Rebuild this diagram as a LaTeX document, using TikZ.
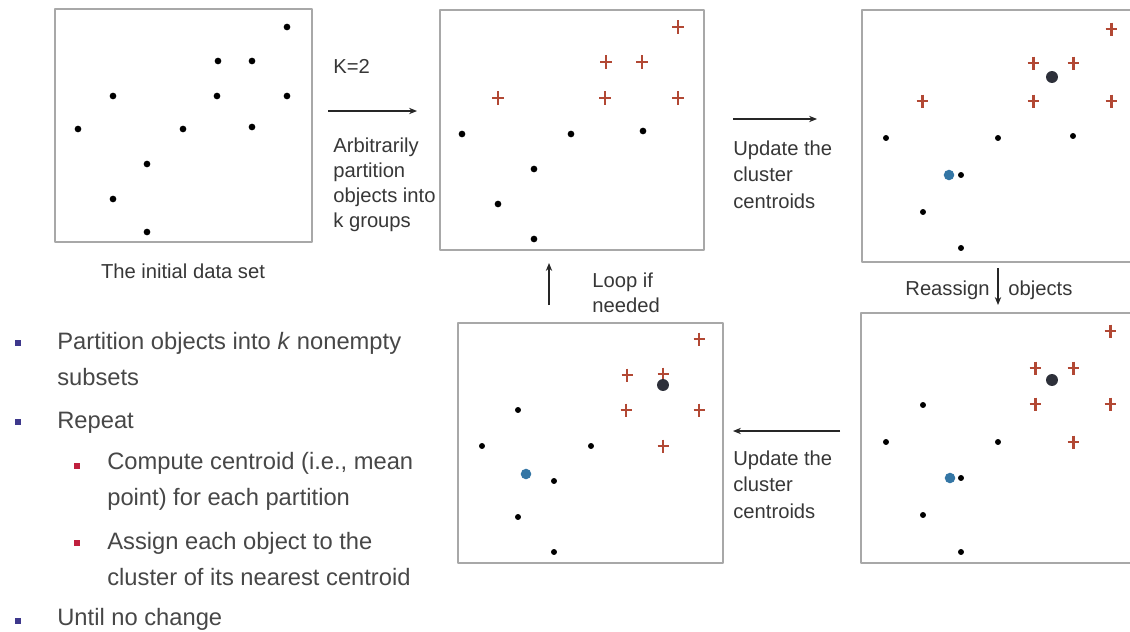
\documentclass[tikz,border=0pt]{standalone}
\usepackage{fontspec}
\setmainfont{Liberation Sans}
\usetikzlibrary{arrows.meta}
\definecolor{framegray}{RGB}{168,168,168}
\definecolor{crossred}{RGB}{178,72,52}
\definecolor{centblue}{RGB}{52,118,165}
\definecolor{centdark}{RGB}{45,48,58}
\definecolor{bulletblue}{RGB}{62,56,140}
\definecolor{bulletred}{RGB}{192,32,62}
\definecolor{labelgray}{RGB}{55,55,55}
\newcommand{\labfont}{\fontsize{11.5}{14.2}\selectfont}
\newcommand{\listfont}{\fontsize{13.5}{20}\selectfont}

\begin{document}
\begin{tikzpicture}[x=0.02cm,y=-0.02cm,>={Stealth[length=4.5pt,width=3.6pt]},line join=round,
 panel/.style={draw=framegray,line width=1pt},
 crossmark/.style={crossred,line width=1.7pt},
 flow/.style={->,line width=.7pt,black!85},
 lbl/.style={font=\labfont,text=labelgray,inner sep=0pt,align=left},
 item/.style={font=\listfont,text=black!72,inner sep=0pt,align=left,anchor=base west}]
 \useasboundingbox (0,0) rectangle (1130,632);
 \clip (0,0) rectangle (1130,632);
 \fill[white] (0,0) rectangle (1130,632);
 \draw[panel] (55,9) rectangle (312,242);
 \draw[panel] (440,10) rectangle (704,250);
 \draw[panel] (862,10) rectangle (1145,262);
 \draw[panel] (861,313) rectangle (1145,563);
 \draw[panel] (458,323) rectangle (723,563);
 \foreach \x/\y in {287/27,218/61,252/61,113/96,217/96,287/96,
   78/129,183/129,252/127,147/164,113/199,147/232,
   462/134,571/134,643/131,534/169,498/204,534/239}
  \fill (\x,\y) circle(1.9pt);
 \foreach \x/\y in {678/27,606/62,642/62,498/98,605/98,678/98}
  \draw[crossmark] ({\x-6},\y)--({\x+6},\y) (\x,{\y-7})--(\x,{\y+7});
 \foreach \x/\y in {1111/29,1033/63,1073/63,922/101,1033/101,1111/101,
   1110/331,1035/368,1073/368,1035/404,1110/404,1073/442,
   699/339,627/375,663/374,626/410,699/410,663/446}
  \draw[crossmark] ({\x-5.5},\y)--({\x+5.5},\y) (\x,{\y-6.5})--(\x,{\y+6.5});
 \foreach \x/\y in {949/175,950/478,526/474}
  \fill[centblue] (\x,\y) circle(3pt);
 \foreach \x/\y in {1052/77,1052/380,663/385}
  \fill[centdark] (\x,\y) circle(3.4pt);
 \foreach \x/\y in {886/138,998/138,1073/136,961/175,923/212,961/248,
   923/405,886/442,998/442,961/478,923/515,961/552,
   518/410,482/446,591/446,554/481,518/517,554/552}
  \fill (\x,\y) circle(1.7pt);
 \node[lbl,anchor=base] (init) at (183,278) {The initial data set};
 \node[lbl,anchor=base west] (kval) at (333,73) {K=2};
 \node[lbl,anchor=base west] (part) at (333,227)
  {Arbitrarily\\partition\\objects into\\k groups};
 \node[lbl,anchor=base west,font=\fontsize{11.5}{15}\selectfont] (upd1) at (733,208)
  {Update the\\cluster\\centroids};
 \node[lbl,anchor=base west,font=\fontsize{11.5}{15}\selectfont] (upd2) at (733,518)
  {Update the\\cluster\\centroids};
 \node[lbl,anchor=base east] (reas) at (990,295) {Reassign};
 \node[lbl,anchor=base west] (objs) at (1008,295) {objects};
 \node[lbl,anchor=base west] (loop) at (592,312) {Loop if\\needed};
 \coordinate (a1s) at (328,111);
 \coordinate (a1e) at (417,111);
 \coordinate (a2s) at (733,119);
 \coordinate (a2e) at (817,119);
 \coordinate (a3s) at (998,268);
 \coordinate (a3e) at (998,305);
 \coordinate (a4s) at (840,431);
 \coordinate (a4e) at (733,431);
 \coordinate (a5s) at (549,305);
 \coordinate (a5e) at (549,263);
 \draw[flow] (a1s)--(a1e);
 \draw[flow] (a2s)--(a2e);
 \draw[flow] (a3s)--(a3e);
 \draw[flow] (a4s)--(a4e);
 \draw[flow] (a5s)--(a5e);
 \foreach \y in {343,422,621}
  \fill[bulletblue] (15,{\y-3}) rectangle (21,{\y+3});
 \foreach \y in {466,543}
  \fill[bulletred] (74,{\y-3}) rectangle (80,{\y+3});
 \node[item] (step1) at (57,385) {Partition objects into \textit{k} nonempty\\subsets};
 \node[item] (step2) at (57,428) {Repeat};
 \node[item] (step3) at (107,505) {Compute centroid (i.e., mean\\point) for each partition};
 \node[item] (step4) at (107,585) {Assign each object to the\\cluster of its nearest centroid};
 \node[item] (step5) at (57,625) {Until no change};
\end{tikzpicture}
\end{document}
